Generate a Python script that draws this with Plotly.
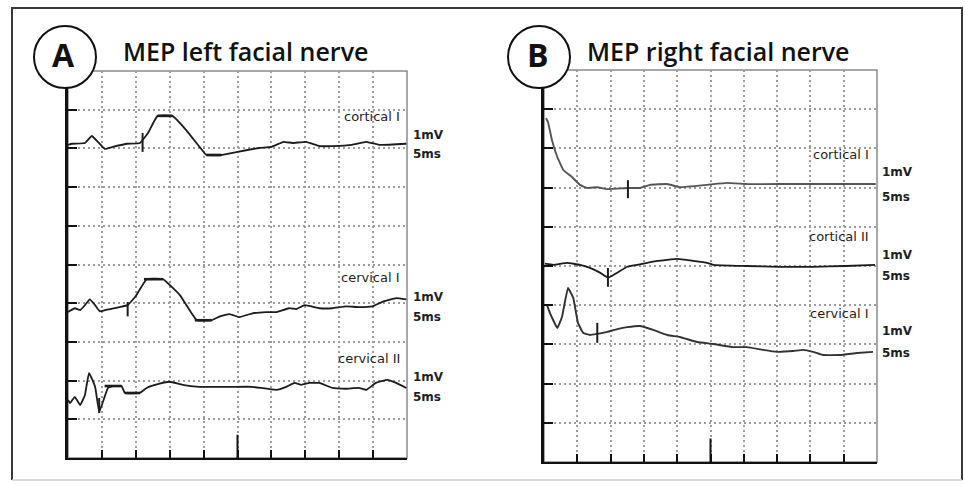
import plotly.graph_objects as go

W, H = 965, 486

# ---------------- data (time in ms, amplitude in mV; 1 division = 1 mV / 5 ms) -------------
a_cort1_t = [0, 0.6, 2.5, 3.5, 4.4, 5.4, 6.6, 8.7, 10.6, 11.8, 13.2, 15.4, 17.4, 19.4, 20.4, 22.6,
             25.0, 28.2, 30.0, 31.8, 33.1, 35.1, 37.1, 39.0, 41.9, 44.0, 45.9, 49.9]
a_cort1_v = [0, 0.03, 0.05, 0.23, 0.08, -0.10, -0.05, 0.03, 0.05, 0.31, 0.75, 0.75, 0.39, -0.05, -0.26, -0.26,
             -0.18, -0.08, -0.05, 0.08, 0.05, 0.08, -0.03, -0.03, 0.0, 0.08, 0.0, 0.03]

a_cerv1_t = [0, 1.0, 1.8, 2.5, 3.2, 4.0, 4.7, 6.2, 7.6, 8.8, 9.9, 11.6, 14.0, 16.5, 19.0, 21.2, 22.4,
             23.8, 25.3, 27.2, 29.3, 30.7, 32.6, 33.7, 34.9, 37.1, 39.0, 41.0, 42.9, 44.9, 46.3, 48.4, 49.9]
a_cerv1_v = [-0.05, 0.05, 0, 0.13, 0.28, 0.13, -0.03, 0.03, 0.08, 0.13, 0.34, 0.80, 0.80, 0.39, -0.26, -0.26, -0.16,
             -0.10, -0.18, -0.08, -0.05, -0.05, 0.05, 0.03, 0.13, 0.05, 0.05, 0.10, 0.08, 0.10, 0.21, 0.31, 0.28]

a_cerv2_t = [0, 0.3, 1.0, 1.8, 2.5, 3.1, 4.0, 4.6, 5.4, 5.9, 6.6, 7.9, 8.4, 10.6, 11.6, 13.5, 15.0, 16.9,
             19.4, 21.9, 24.3, 27.2, 30.7, 32.2, 33.4, 34.4, 35.6, 37.1, 39.0, 41.0, 42.9, 44.0, 45.4, 47.1, 48.4, 49.9]
a_cerv2_v = [-0.26, -0.34, -0.18, -0.39, -0.13, 0.44, 0.08, -0.57, -0.18, 0.05, 0.10, 0.10, -0.08, -0.08, 0.05, 0.16, 0.21, 0.13,
             0.08, 0.08, 0.08, 0.08, 0, 0.08, 0.18, 0.13, 0.18, 0.18, 0.05, 0.03, 0.05, 0, 0.18, 0.26, 0.18, 0.05]

b_cort1_t = [0.3, 0.6, 1.2, 2.0, 2.9, 4.2, 5.4, 6.5, 8.0, 9.5, 12.6, 14.4, 15.9, 18.5, 20.4, 24.5, 27.5, 30.5, 35.4, 40.4, 49.8]
b_cort1_v = [1.73, 1.63, 1.17, 0.74, 0.41, 0.23, 0.03, -0.05, -0.03, -0.08, -0.05, -0.05, 0.03, 0.05, -0.03, 0.03, 0.08, 0.05, 0.05, 0.05, 0.05]

b_cort2_t = [0.15, 1.4, 3.5, 5.4, 6.9, 8.4, 9.6, 11.0, 12.5, 14.0, 15.5, 17.0, 20.0, 22.4, 24.5, 25.4, 30.3, 35.3, 40.2, 45.3, 49.7]
b_cort2_v = [0.03, 0, 0.05, 0, -0.08, -0.20, -0.33, -0.20, -0.05, 0, 0.05, 0.10, 0.15, 0.10, 0.05, 0, -0.03, -0.05, -0.05, -0.03, 0]

b_cerv1_t = [0.45, 0.9, 2.0, 2.7, 3.6, 4.4, 5.1, 5.9, 6.9, 8.0, 9.5, 11.0, 12.5, 14.4, 16.4, 18.5, 20.4, 23.0, 25.4,
             28.4, 30.5, 32.9, 35.0, 37.4, 38.9, 40.4, 41.9, 44.4, 47.0, 49.4]
b_cerv1_v = [0.77, 0.56, 0.18, 0.46, 1.20, 0.94, 0.31, 0.05, 0, 0.03, 0.08, 0.15, 0.20, 0.23, 0.13, 0, -0.05, -0.18, -0.23,
             -0.31, -0.31, -0.38, -0.43, -0.41, -0.38, -0.43, -0.51, -0.51, -0.46, -0.43]

# latency markers: time, top amplitude, bottom amplitude
a_lat = {"cort1": (11.0, 0.31, -0.18), "cerv1": (8.8, 0.21, -0.16), "cerv2": (4.6, -0.21, -0.60)}
b_lat = {"cort1": (12.6, 0.15, -0.31), "cort2": (9.6, -0.08, -0.56), "cerv1": (8.0, 0.31, -0.20)}

# amplitude markers (peak / trough bars): t0, t1, amplitude
a_bars = {"cort1": [(13.2, 15.4, 0.75), (20.4, 22.6, -0.26)],
          "cerv1": [(11.2, 14.0, 0.80), (18.7, 21.2, -0.26)],
          "cerv2": [(5.4, 7.9, 0.10), (8.4, 10.6, -0.08)]}

labels_a = ["cortical I", "cervical I", "cervical II"]
labels_b = ["cortical I", "cortical II", "cervical I"]
scale_top, scale_bot = "1mV", "5ms"
title_a, title_b = "MEP left facial nerve", "MEP right facial nerve"

# ---------------- layout helpers ----------------
def px(x):
    return x / W

def py(y):
    return 1 - y / H

# baselines (in grid divisions from bottom)
base_a = {"cort1": 8.09, "cerv1": 3.82, "cerv2": 1.76}
base_b = {"cort1": 7.04, "cort2": 5.03, "cerv1": 3.24}

fig = go.Figure()
TRACE = "#1c1c1c"

def add_trace(t, v, base, xa, ya, color=TRACE, width=1.8):
    fig.add_trace(go.Scatter(x=t, y=[base + a for a in v], mode="lines", xaxis=xa, yaxis=ya,
                             line=dict(color=color, width=width, shape="spline", smoothing=0.3),
                             showlegend=False, hoverinfo="skip"))

def add_lat(lat, base, xa, ya):
    t, a0, a1 = lat
    fig.add_trace(go.Scatter(x=[t, t], y=[base + a0, base + a1], mode="lines", xaxis=xa, yaxis=ya,
                             line=dict(color=TRACE, width=2), showlegend=False, hoverinfo="skip"))

def add_bar(bar, base, xa, ya):
    t0, t1, a = bar
    fig.add_trace(go.Scatter(x=[t0, t1], y=[base + a, base + a], mode="lines", xaxis=xa, yaxis=ya,
                             line=dict(color=TRACE, width=2.6), showlegend=False, hoverinfo="skip"))

add_trace(a_cort1_t, a_cort1_v, base_a["cort1"], "x", "y")
add_trace(a_cerv1_t, a_cerv1_v, base_a["cerv1"], "x", "y")
add_trace(a_cerv2_t, a_cerv2_v, base_a["cerv2"], "x", "y")
for k in a_lat:
    add_lat(a_lat[k], base_a[k], "x", "y")
    for b in a_bars[k]:
        add_bar(b, base_a[k], "x", "y")

add_trace(b_cort1_t, b_cort1_v, base_b["cort1"], "x2", "y2", color="#555555", width=1.9)
add_trace(b_cort2_t, b_cort2_v, base_b["cort2"], "x2", "y2")
add_trace(b_cerv1_t, b_cerv1_v, base_b["cerv1"], "x2", "y2", color="#333333", width=1.9)
for k in b_lat:
    add_lat(b_lat[k], base_b[k], "x2", "y2")

# tall centre tick on time axis
for xa, ya in (("x", "y"), ("x2", "y2")):
    fig.add_trace(go.Scatter(x=[25, 25], y=[0, 0.6], mode="lines", xaxis=xa, yaxis=ya,
                             line=dict(color="#111", width=2), showlegend=False, hoverinfo="skip"))

GRID = "#9c9c9c"
def xaxis(domain, anchor):
    return dict(domain=domain, anchor=anchor, range=[0, 50], tickvals=[5 * i for i in range(1, 10)],
                showticklabels=False, ticks="inside", ticklen=8, tickwidth=2, tickcolor="#111",
                showgrid=True, gridcolor=GRID, gridwidth=2, griddash="2px,3px", zeroline=False,
                showline=True, linecolor="#111", linewidth=2, fixedrange=True)

def yaxis(domain, anchor):
    return dict(domain=domain, anchor=anchor, range=[0, 10], tickvals=list(range(1, 10)),
                showticklabels=False, ticks="inside", ticklen=9, tickwidth=2, tickcolor="#111",
                showgrid=True, gridcolor=GRID, gridwidth=2, griddash="2px,3px", zeroline=False,
                showline=True, linecolor="#111", linewidth=3, fixedrange=True)

# panel boxes in pixels
A_box = (68, 71, 407, 458)
B_box = (544, 70, 877, 462)

fig.update_layout(
    width=W, height=H, margin=dict(l=0, r=0, t=0, b=0),
    paper_bgcolor="white", plot_bgcolor="white",
    xaxis=xaxis([px(A_box[0]), px(A_box[2])], "y"),
    yaxis=yaxis([py(A_box[3]), py(A_box[1])], "x"),
    xaxis2=xaxis([px(B_box[0]), px(B_box[2])], "y2"),
    yaxis2=yaxis([py(B_box[3]), py(B_box[1])], "x2"),
)

shapes = []
# outer frame
shapes.append(dict(type="path", xref="paper", yref="paper",
                   path=f"M{px(12)},{py(480)} L{px(12)},{py(8)} L{px(962)},{py(8)} L{px(962)},{py(480)}",
                   line=dict(color="#3a3a3a", width=2)))
shapes.append(dict(type="line", xref="paper", yref="paper", x0=px(12), x1=px(962), y0=py(480), y1=py(480),
                   line=dict(color="#cfcfcf", width=1.5)))
# plot boxes (top/right border gray)
for xr, yr in (("x domain", "y domain"), ("x2 domain", "y2 domain")):
    shapes.append(dict(type="rect", xref=xr, yref=yr, x0=0, x1=1, y0=0, y1=1,
                       line=dict(color="#8a8a8a", width=1.5), layer="below"))
# letter circles
for cx in (65, 539):
    shapes.append(dict(type="circle", xref="paper", yref="paper",
                       x0=px(cx - 31), x1=px(cx + 31), y0=py(88), y1=py(26),
                       line=dict(color="#111", width=2), fillcolor="white", layer="above"))
fig.update_layout(shapes=shapes)

ann = []
TITLE_FONT = dict(family="Open Sans, sans-serif", size=25, color="#111", weight=600)
ann.append(dict(text="<b>A</b>", x=px(63), y=py(55), xref="paper", yref="paper", showarrow=False,
                xanchor="center", yanchor="middle", font=dict(family="Open Sans, sans-serif", size=32, color="#111")))
ann.append(dict(text="<b>B</b>", x=px(538), y=py(55), xref="paper", yref="paper", showarrow=False,
                xanchor="center", yanchor="middle", font=dict(family="Open Sans, sans-serif", size=32, color="#111")))
ann.append(dict(text=title_a, x=px(121), y=py(51), xref="paper", yref="paper", showarrow=False,
                xanchor="left", yanchor="middle", font=TITLE_FONT))
ann.append(dict(text=title_b, x=px(585), y=py(51), xref="paper", yref="paper", showarrow=False,
                xanchor="left", yanchor="middle", font=TITLE_FONT))

LBL = dict(family="DejaVu Sans, sans-serif", size=13, color="#1e1e1e")
SC = dict(family="DejaVu Sans, sans-serif", size=12, color="#1e1e1e")
a_lab_y = [(116, 135, 154), (277, 297, 317), (358, 377, 397)]
b_lab_y = [(155, 172, 197), (236, 255, 276), (313, 331, 353)]
for labels, ys, xr, xs in ((labels_a, a_lab_y, 402, 411), (labels_b, b_lab_y, 871, 880)):
    for lab, (yl, y1, y2) in zip(labels, ys):
        ann.append(dict(text=lab, x=px(xr), y=py(yl), xref="paper", yref="paper", showarrow=False,
                        xanchor="right", yanchor="middle", font=LBL))
        ann.append(dict(text=f"<b>{scale_top}</b>", x=px(xs), y=py(y1), xref="paper", yref="paper", showarrow=False,
                        xanchor="left", yanchor="middle", font=SC))
        ann.append(dict(text=f"<b>{scale_bot}</b>", x=px(xs), y=py(y2), xref="paper", yref="paper", showarrow=False,
                        xanchor="left", yanchor="middle", font=SC))
fig.update_layout(annotations=ann)

fig.write_html("out.html", config={"displayModeBar": False},
               post_script="document.body.style.margin='0';")
